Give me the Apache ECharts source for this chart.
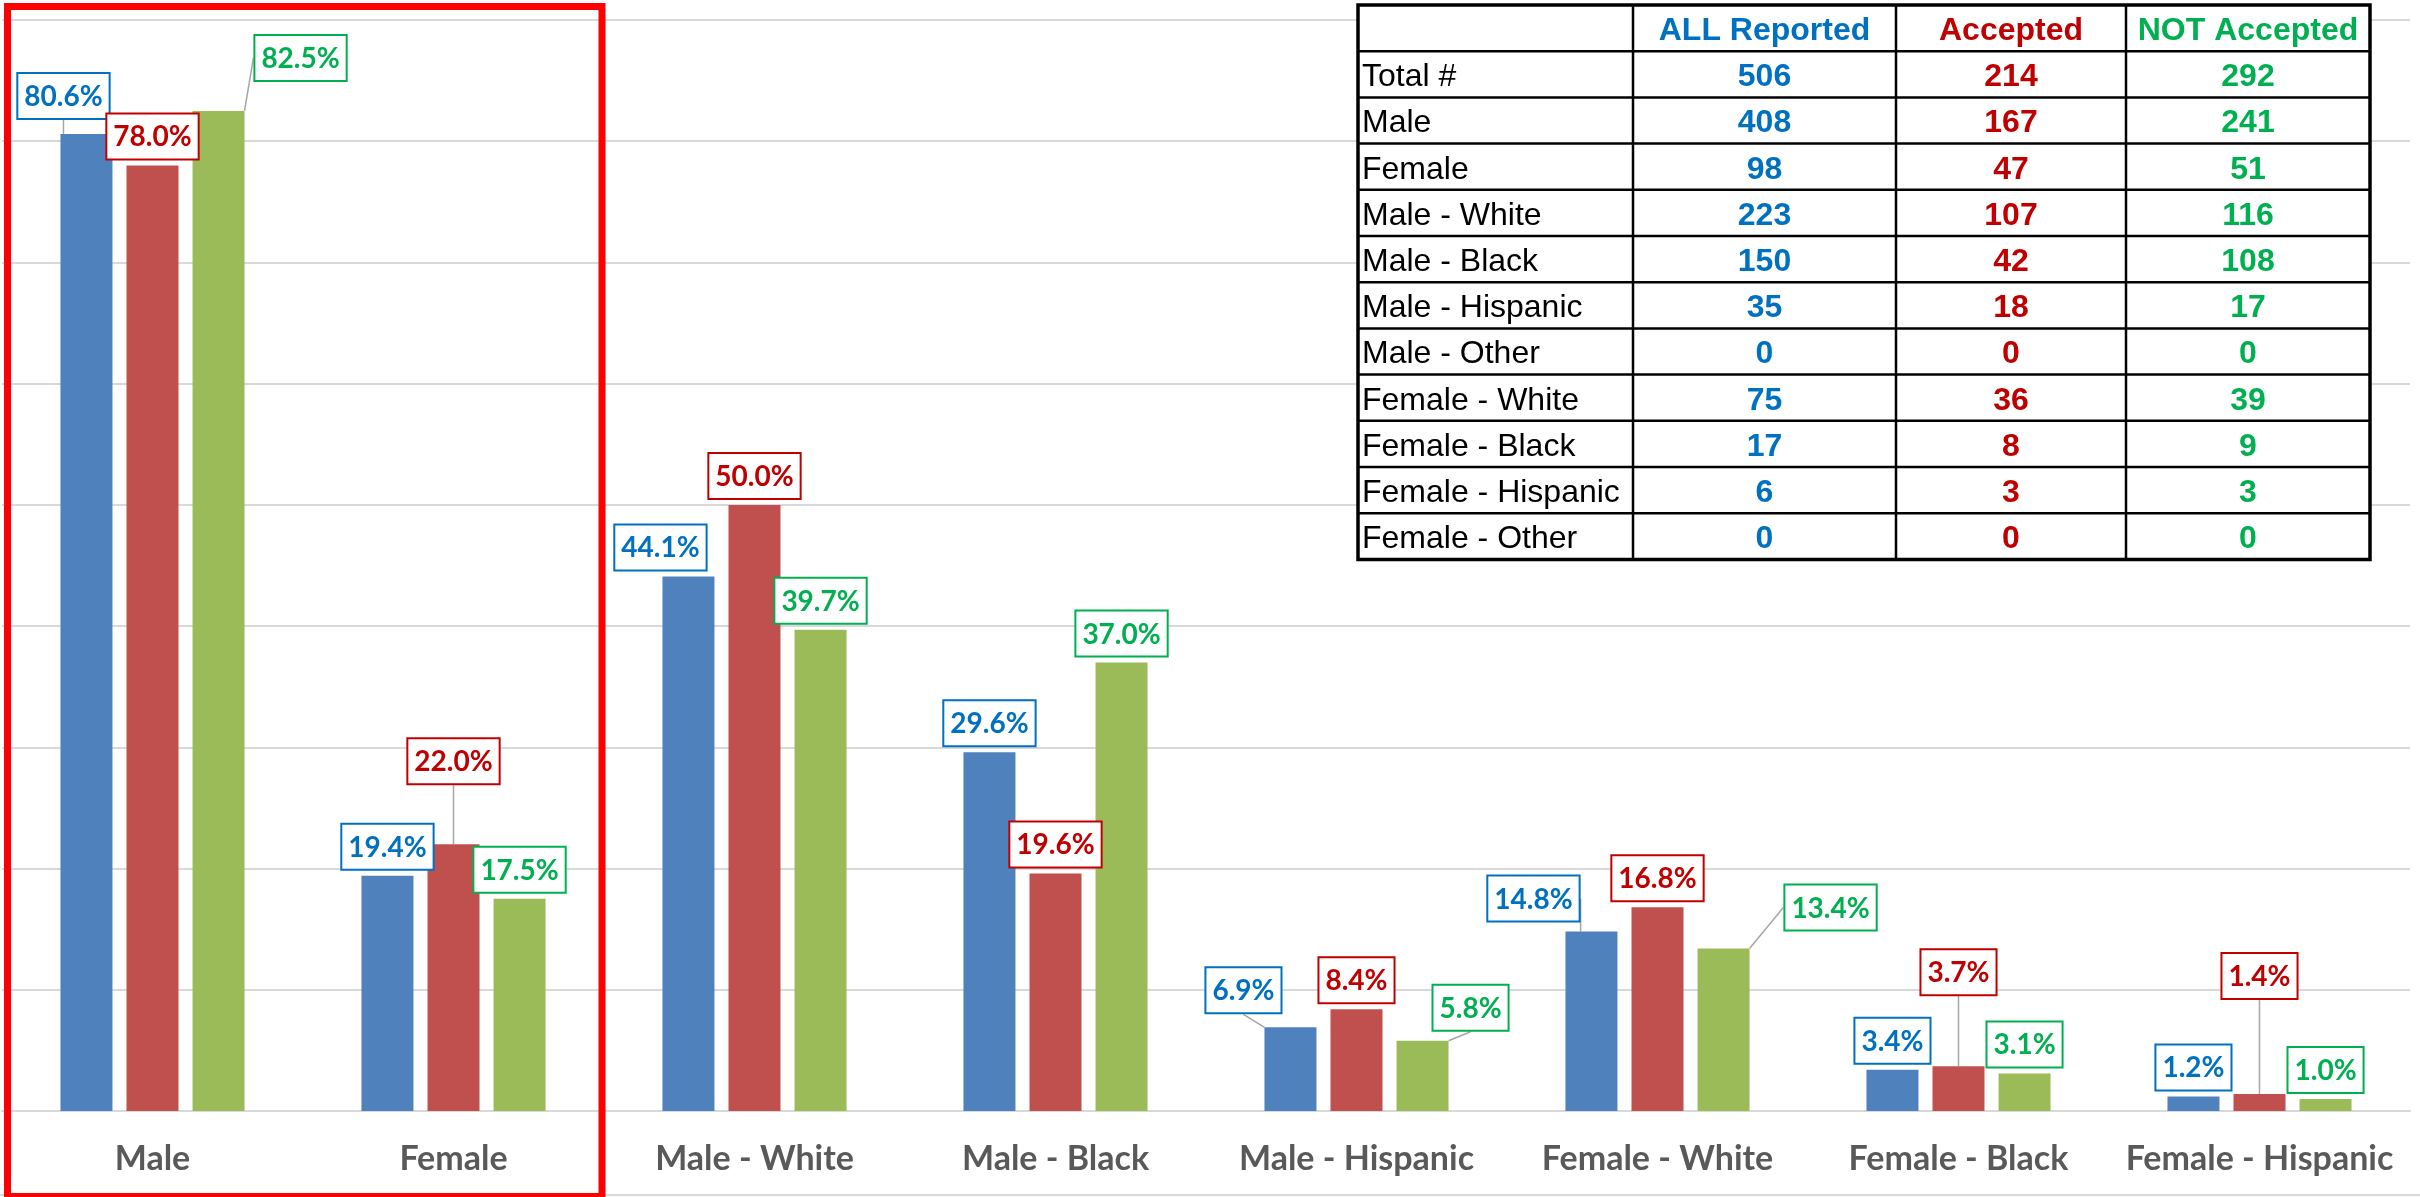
<!DOCTYPE html>
<html>
<head>
<meta charset="utf-8">
<script src="https://cdn.jsdelivr.net/npm/echarts@6/dist/echarts.min.js"></script>
<style>
  html, body { margin: 0; padding: 0; background: #fff; }
  #chart { width: 2420px; height: 1197px; }
</style>
</head>
<body>
<div id="chart"></div>
<script>
// chart data (percent of each column)
const categories = ['Male', 'Female', 'Male - White', 'Male - Black', 'Male - Hispanic', 'Female - White', 'Female - Black', 'Female - Hispanic'];
const allReported = [80.6, 19.4, 44.1, 29.6, 6.9, 14.8, 3.4, 1.2];
const accepted = [78.0, 22.0, 50.0, 19.6, 8.4, 16.8, 3.7, 1.4];
const notAccepted = [82.5, 17.5, 39.7, 37.0, 5.8, 13.4, 3.1, 1.0];

// counts table
const tableHeaders = ['ALL Reported', 'Accepted', 'NOT Accepted'];
const tableRows = ['Total #', 'Male', 'Female', 'Male - White', 'Male - Black', 'Male - Hispanic', 'Male - Other', 'Female - White', 'Female - Black', 'Female - Hispanic', 'Female - Other'];
const tableAll = [506, 408, 98, 223, 150, 35, 0, 75, 17, 6, 0];
const tableAccepted = [214, 167, 47, 107, 42, 18, 0, 36, 8, 3, 0];
const tableNot = [292, 241, 51, 116, 108, 17, 0, 39, 9, 3, 0];

// callout nudges [dx, dy, leader line]
const blueShift = [[-23, -9, 1], null, [-28, 0, 0], null, [-47, -8, 1], [-58, -4, 1], null, null];
const redShift = [null, [0, -54, 1], null, null, null, null, [0, -65, 1], [0, -89, 1]];
const greenShift = [[82, -24, 1], null, null, null, [48, -4, 1], [107, -12, 1], null, null];

const BLUE = '#0070C0', RED = '#C00000', GREEN = '#00B050';

function barSeries(name, values, barColor, textColor, shifts) {
  return {
    name: name,
    type: 'bar',
    barWidth: 52,
    barGap: '27%',
    itemStyle: { color: barColor },
    data: values.map((v, i) => ({
      value: v,
      labelLine: { show: !!(shifts[i] && shifts[i][2]) }
    })),
    label: {
      show: true,
      position: 'top',
      distance: 7,
      formatter: p => p.value.toFixed(1) + '%',
      color: textColor,
      fontFamily: 'Lato',
      fontWeight: 'bold',
      fontSize: 28,
      lineHeight: 32,
      backgroundColor: '#fff',
      borderColor: textColor,
      borderWidth: 2,
      padding: [7, 6, 5, 6]
    },
    labelLine: {
      lineStyle: { color: '#A6A6A6', width: 1.5 }
    },
    labelLayout: function (p) {
      const s = shifts[p.dataIndex];
      return s ? { dx: s[0], dy: s[1] } : {};
    }
  };
}

// table drawing
const colX = [1358, 1633, 1896, 2126, 2370];
const tTop = 5, rowH = 46.2;
const tBottom = tTop + rowH * (tableRows.length + 1);
const tableFont = '32px "Liberation Sans", Arial, sans-serif';
const tableGraphics = [];
tableGraphics.push({
  type: 'rect', z: 20,
  shape: { x: colX[0], y: tTop, width: colX[4] - colX[0], height: tBottom - tTop },
  style: { fill: '#fff', stroke: '#000', lineWidth: 3.5 }
});
for (let r = 1; r <= tableRows.length; r++) {
  const y = tTop + r * rowH;
  tableGraphics.push({
    type: 'line', z: 21,
    shape: { x1: colX[0], y1: y, x2: colX[4], y2: y },
    style: { stroke: '#000', lineWidth: 2.5 }
  });
}
for (let c = 1; c <= 3; c++) {
  tableGraphics.push({
    type: 'line', z: 21,
    shape: { x1: colX[c], y1: tTop, x2: colX[c], y2: tBottom },
    style: { stroke: '#000', lineWidth: 2.5 }
  });
}
const colColors = [BLUE, RED, GREEN];
tableHeaders.forEach((h, c) => {
  tableGraphics.push({
    type: 'text', z: 22,
    x: (colX[c + 1] + colX[c + 2]) / 2, y: tTop + rowH / 2 + 3,
    style: { text: h, fill: colColors[c], font: 'bold ' + tableFont, align: 'center', verticalAlign: 'middle' }
  });
});
const tableCols = [tableAll, tableAccepted, tableNot];
tableRows.forEach((name, r) => {
  const cy = tTop + (r + 1) * rowH + rowH / 2 + 3;
  tableGraphics.push({
    type: 'text', z: 22,
    x: colX[0] + 4, y: cy,
    style: { text: name, fill: '#000', font: tableFont, align: 'left', verticalAlign: 'middle' }
  });
  tableCols.forEach((col, c) => {
    tableGraphics.push({
      type: 'text', z: 22,
      x: (colX[c + 1] + colX[c + 2]) / 2, y: cy,
      style: { text: String(col[r]), fill: colColors[c], font: 'bold ' + tableFont, align: 'center', verticalAlign: 'middle' }
    });
  });
});

const option = {
  animation: false,
  backgroundColor: '#fff',
  grid: { left: 2, right: 10, top: 20, bottom: 86, containLabel: false, outerBoundsMode: 'none' },
  xAxis: {
    type: 'category',
    data: categories,
    axisTick: { show: false },
    axisLine: { show: true, lineStyle: { color: '#D9D9D9', width: 2 } },
    axisLabel: {
      interval: 0,
      margin: 30,
      color: '#595959',
      fontFamily: 'Lato',
      fontWeight: 'bold',
      fontSize: 34,
      lineHeight: 36
    }
  },
  yAxis: {
    type: 'value',
    min: 0,
    max: 90,
    interval: 10,
    axisLabel: { show: false },
    axisLine: { show: false },
    axisTick: { show: false },
    splitLine: { lineStyle: { color: '#D9D9D9', width: 2 } }
  },
  series: [
    barSeries('ALL Reported', allReported, '#4F81BD', BLUE, blueShift),
    barSeries('Accepted', accepted, '#C0504D', RED, redShift),
    barSeries('NOT Accepted', notAccepted, '#9BBB59', GREEN, greenShift)
  ],
  graphic: [
    {
      type: 'line', z: 5,
      shape: { x1: 0, y1: 1195, x2: 2420, y2: 1195 },
      style: { stroke: '#D9D9D9', lineWidth: 2 }
    },
    {
      type: 'rect', z: 30,
      shape: { x: 7.5, y: 6.5, width: 594.5, height: 1190 },
      style: { fill: 'none', stroke: '#FF0000', lineWidth: 7 }
    }
  ].concat(tableGraphics)
};

const myChart = echarts.init(document.getElementById('chart'));
myChart.setOption(option);
</script>
</body>
</html>
